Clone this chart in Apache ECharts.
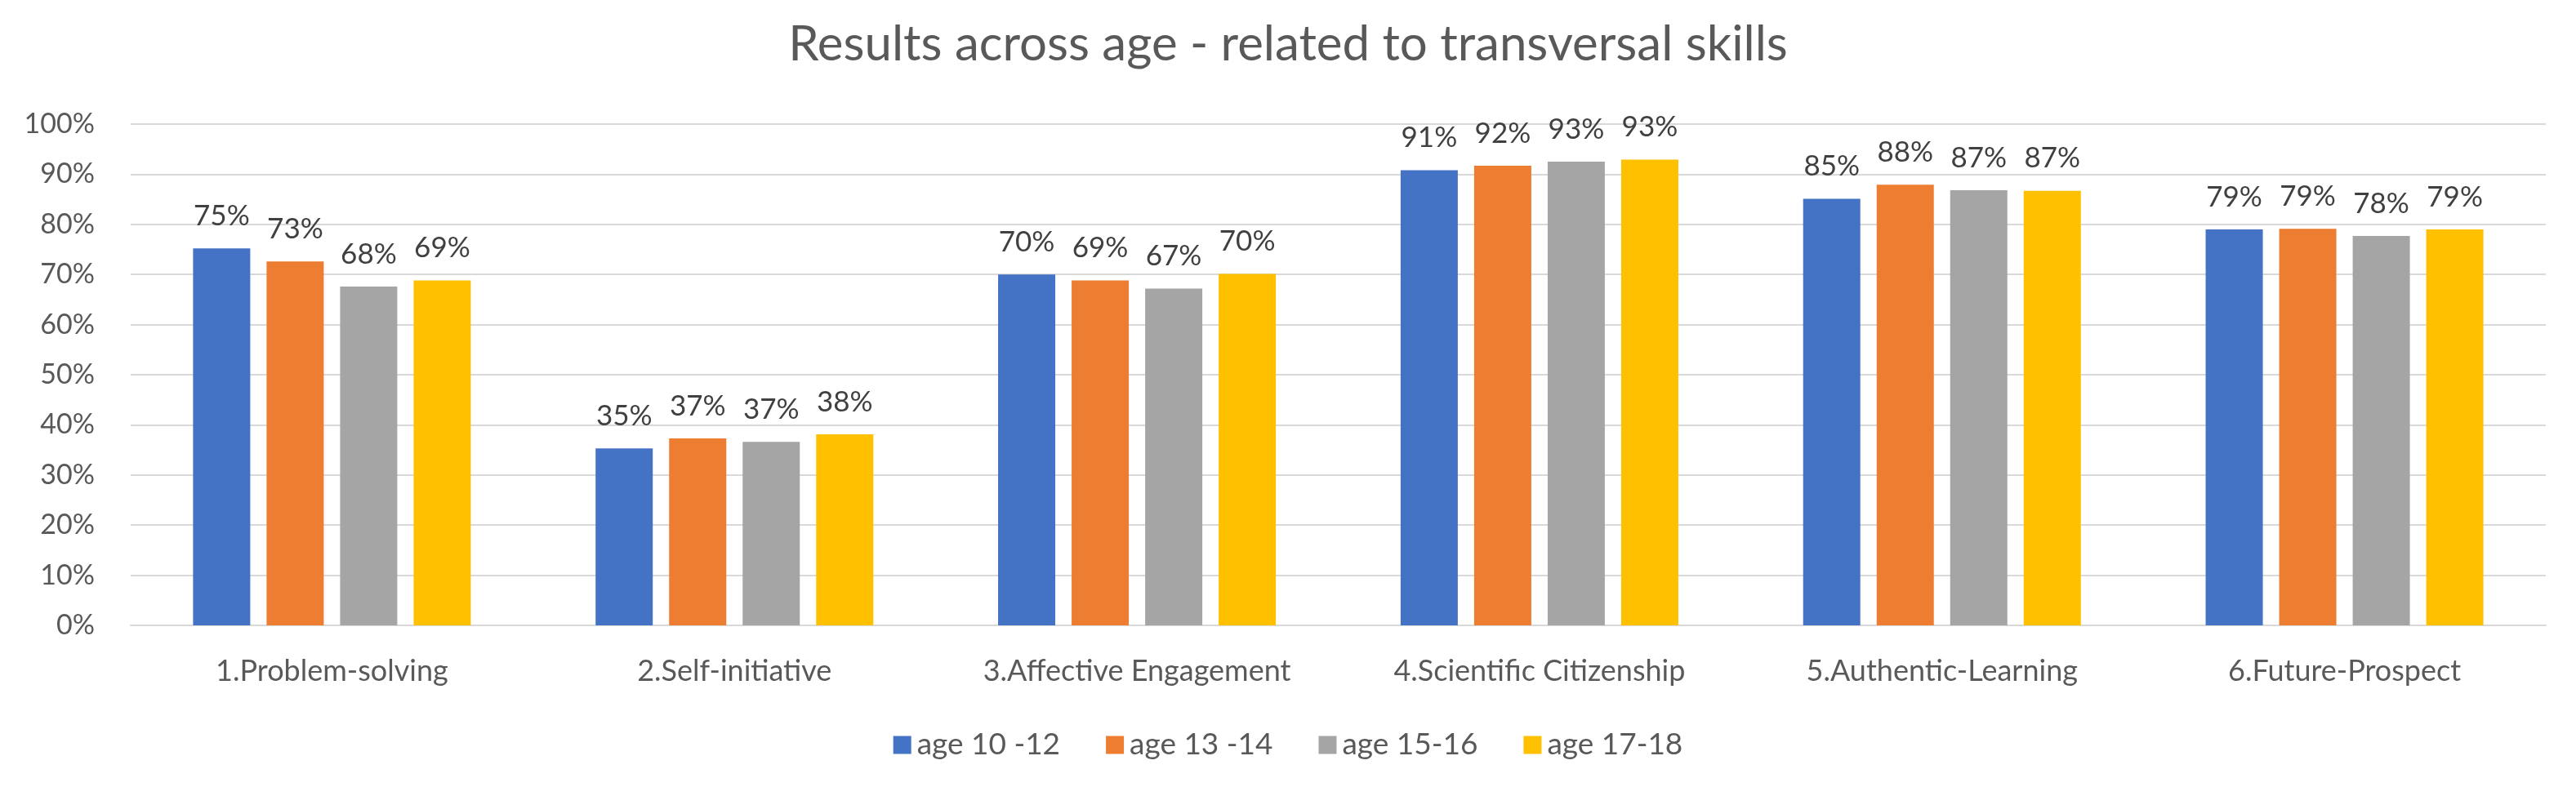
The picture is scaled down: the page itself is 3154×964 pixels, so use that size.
<!DOCTYPE html>
<html>
<head>
<meta charset="utf-8">
<script src="https://cdn.jsdelivr.net/npm/echarts@6/dist/echarts.min.js"></script>
<style>
html,body{margin:0;padding:0;background:#fff;}
#chart{width:3154px;height:964px;}
</style>
</head>
<body>
<div id="chart"></div>
<script>
const titleText = 'Results across age - related to transversal skills';
const categories = ['1.Problem-solving', '2.Self-initiative', '3.Affective Engagement', '4.Scientific Citizenship', '5.Authentic-Learning', '6.Future-Prospect'];
const seriesNames = ['age 10 -12', 'age 13 -14', 'age 15-16', 'age 17-18'];
const age10_12 = [75.2, 35.3, 70.0, 90.8, 85.1, 79.0];
const age13_14 = [72.6, 37.3, 68.8, 91.7, 87.9, 79.1];
const age15_16 = [67.6, 36.6, 67.2, 92.5, 86.8, 77.7];
const age17_18 = [68.8, 38.1, 70.1, 92.9, 86.7, 79.0];
const colors = ['#4472C4', '#ED7D31', '#A5A5A5', '#FFC000'];

const seriesData = [age10_12, age13_14, age15_16, age17_18];
const textColor = '#595959';
const font = 'Lato';

const chart = echarts.init(document.getElementById('chart'), null, {renderer: 'canvas'});
chart.setOption({
  backgroundColor: '#ffffff',
  animation: false,
  color: colors,
  title: {
    text: titleText,
    left: 'center',
    top: 20,
    textStyle: {fontFamily: font, fontSize: 60, fontWeight: 'normal', color: textColor}
  },
  legend: {
    data: seriesNames,
    bottom: 28,
    left: 'center',
    itemWidth: 22,
    itemHeight: 22,
    itemGap: 56,
    icon: 'rect',
    textStyle: {fontFamily: font, fontSize: 37, color: textColor, padding: [0, 0, 0, 2]}
  },
  grid: {left: 160, right: 37, top: 152, bottom: 198, containLabel: false},
  xAxis: {
    type: 'category',
    data: categories,
    axisTick: {show: false},
    axisLine: {lineStyle: {color: '#D9D9D9', width: 2}},
    axisLabel: {interval: 0, hideOverlap: false, fontFamily: font, fontSize: 36, color: textColor, margin: 38}
  },
  yAxis: {
    type: 'value',
    min: 0,
    max: 100,
    interval: 10,
    axisLine: {show: false},
    axisTick: {show: false},
    splitLine: {lineStyle: {color: '#D9D9D9', width: 2}},
    axisLabel: {fontFamily: font, fontSize: 34, color: textColor, margin: 44, formatter: v => v + '%'}
  },
  series: seriesNames.map((name, i) => ({
    name: name,
    type: 'bar',
    data: seriesData[i],
    barGap: '28.6%',
    barCategoryGap: '31%',
    itemStyle: {color: colors[i]},
    label: {
      show: true,
      position: 'top',
      distance: 22,
      fontFamily: font,
      fontSize: 35,
      color: '#404040',
      formatter: p => Math.round(p.value) + '%'
    }
  }))
});
</script>
</body>
</html>
